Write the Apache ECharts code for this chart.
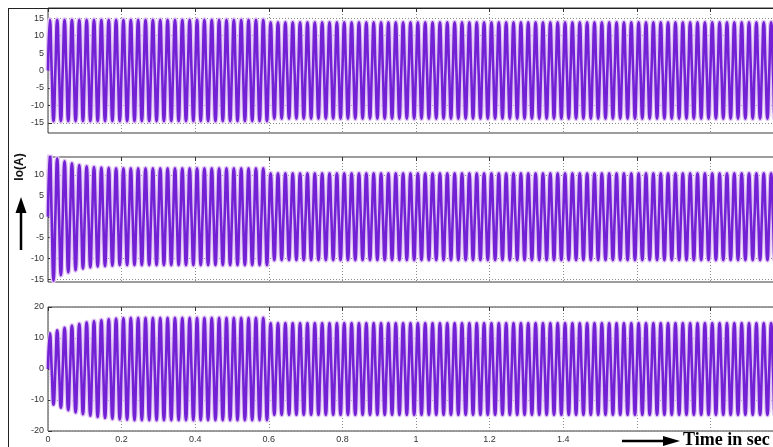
<!DOCTYPE html>
<html>
<head>
<meta charset="utf-8">
<script src="https://cdn.jsdelivr.net/npm/echarts@6/dist/echarts.min.js"></script>
<style>
  html, body { margin: 0; padding: 0; background: #fff; overflow: hidden; }
  #chart { width: 800px; height: 447px; }
</style>
</head>
<body>
<div id="chart"></div>
<script>
// Output current waveforms, 50 Hz, three load cases.
const PERIOD = 0.02;        // s, one cycle at 50 Hz
const T_END = 2.0;          // s, end of simulation
const T_SWITCH = 0.6;       // s, load change instant

// Peak amplitude (A) per cycle for the start-up cycles, then the
// steady level before and after the load change.
const topLead = [];
const topBefore = 14.5;
const topAfter = 13.8;

const midLead = [15.3, 14.0, 13.3, 12.8, 12.4, 12.1, 11.9, 11.8, 11.7];
const midBefore = 11.6;
const midAfter = 10.4;

const botLead = [11.5, 12.5, 13.3, 14.0, 14.6, 15.1, 15.5, 15.8, 16.1, 16.3, 16.4];
const botBefore = 16.5;
const botAfter = 14.8;

// Axis ranges and tick labels
const xTicks = [0, 0.2, 0.4, 0.6, 0.8, 1, 1.2, 1.4, 1.6, 1.8, 2];
const topRange = [-17.9, 17.9];
const topTicks = [-15, -10, -5, 0, 5, 10, 15];
const midRange = [-15.6, 14.3];
const midTicks = [-15, -10, -5, 0, 5, 10];
const botRange = [-20, 20];
const botTicks = [-20, -10, 0, 10, 20];

// Peak / zero-crossing points of each cycle
function wave(lead, before, after) {
  const pts = [];
  const n = Math.round(T_END / PERIOD);
  for (let k = 0; k < n; k++) {
    const t0 = k * PERIOD;
    const a = k < lead.length ? lead[k] : (t0 < T_SWITCH - 1e-9 ? before : after);
    pts.push([t0, 0]);
    pts.push([t0 + PERIOD / 4, a]);
    pts.push([t0 + PERIOD / 2, 0]);
    pts.push([t0 + 3 * PERIOD / 4, -a]);
  }
  pts.push([T_END, 0]);
  return pts;
}

const WAVE_COLOR = '#7222d4';
const HALO_COLOR = '#e4c8f4';
const GRID_LINE = { show: true, lineStyle: { color: '#8a8a8a', type: [1, 2], width: 1 } };
const labelFont = { color: '#333', fontSize: 9, fontFamily: 'Liberation Sans, Arial, sans-serif' };

// plot boxes run past the right edge of the 773 px view, as the time axis ends at 2 s
const grids = [
  { left: 48, right: 16, top: 8, height: 125 },
  { left: 48, right: 16, top: 157, height: 125 },
  { left: 48, right: 16, top: 307, height: 124 }
].map(g => Object.assign(g, { show: true, borderColor: '#3a3a3a', borderWidth: 1, backgroundColor: '#fff' }));

function xAxisFor(i, showLabels) {
  return {
    type: 'value', gridIndex: i, min: xTicks[0], max: xTicks[xTicks.length - 1], interval: 0.2,
    axisLine: { show: false },
    axisTick: { show: true, inside: true, length: 4, lineStyle: { color: '#333' } },
    axisLabel: Object.assign({ show: showLabels, margin: 4 }, labelFont),
    splitLine: GRID_LINE
  };
}
function xAxisTop(i) {
  return {
    type: 'value', gridIndex: i, position: 'top', min: xTicks[0], max: xTicks[xTicks.length - 1], interval: 0.2,
    axisLine: { show: false },
    axisTick: { show: true, inside: true, length: 4, lineStyle: { color: '#333' } },
    axisLabel: { show: false },
    splitLine: { show: false }
  };
}
function yAxisFor(i, range, ticks) {
  return {
    type: 'value', gridIndex: i, min: range[0], max: range[1],
    axisLine: { show: false },
    axisTick: { show: true, inside: true, length: 4, customValues: ticks, lineStyle: { color: '#333' } },
    axisLabel: Object.assign({ customValues: ticks, margin: 4 }, labelFont),
    splitLine: Object.assign({ customValues: ticks }, GRID_LINE)
  };
}

const waves = [wave(topLead, topBefore, topAfter), wave(midLead, midBefore, midAfter), wave(botLead, botBefore, botAfter)];
const series = [];
waves.forEach((d, i) => {
  series.push({
    type: 'line', xAxisIndex: i * 2, yAxisIndex: i, data: d, smooth: 0.55, symbol: 'none',
    lineStyle: { color: HALO_COLOR, width: 5 }, silent: true, animation: false, z: 2
  });
  series.push({
    type: 'line', xAxisIndex: i * 2, yAxisIndex: i, data: d, smooth: 0.55, symbol: 'none',
    lineStyle: { color: WAVE_COLOR, width: 2.6 }, silent: true, animation: false, z: 3
  });
});

const chart = echarts.init(document.getElementById('chart'), null, { renderer: 'canvas' });
chart.setOption({
  backgroundColor: '#fff',
  animation: false,
  grid: grids,
  xAxis: [xAxisFor(0, false), xAxisTop(0), xAxisFor(1, false), xAxisTop(1), xAxisFor(2, true), xAxisTop(2)],
  yAxis: [yAxisFor(0, topRange, topTicks), yAxisFor(1, midRange, midTicks), yAxisFor(2, botRange, botTicks)],
  series: series,
  graphic: [
    // outer frame edges
    { type: 'line', shape: { x1: 8.5, y1: 8, x2: 8.5, y2: 447 }, style: { stroke: '#222', lineWidth: 1 }, z: 10 },
    { type: 'line', shape: { x1: 8, y1: 8.5, x2: 800, y2: 8.5 }, style: { stroke: '#222', lineWidth: 1 }, z: 10 },
    // y title with arrow
    { type: 'text', x: 20, y: 167, rotation: Math.PI / 2, style: { text: 'Io(A)', font: 'bold 12px Liberation Sans, Arial, sans-serif', fill: '#111', align: 'center', verticalAlign: 'middle' }, z: 10 },
    { type: 'line', shape: { x1: 21, y1: 250, x2: 21, y2: 210 }, style: { stroke: '#000', lineWidth: 2.5 }, z: 10 },
    { type: 'polygon', shape: { points: [[21, 197], [15.5, 213], [26.5, 213]] }, style: { fill: '#000' }, z: 10 },
    // time label with arrow
    { type: 'rect', shape: { x: 605, y: 433, width: 200, height: 14 }, style: { fill: '#fff' }, z: 9 },
    { type: 'line', shape: { x1: 622, y1: 441, x2: 666, y2: 441 }, style: { stroke: '#000', lineWidth: 2.5 }, z: 10 },
    { type: 'polygon', shape: { points: [[680, 441], [663, 436], [663, 446]] }, style: { fill: '#000' }, z: 10 },
    { type: 'text', x: 683, y: 440, style: { text: 'Time in sec', font: 'bold 18px Liberation Serif, Times New Roman, serif', fill: '#000', align: 'left', verticalAlign: 'middle' }, z: 10 }
  ]
});
</script>
</body>
</html>
